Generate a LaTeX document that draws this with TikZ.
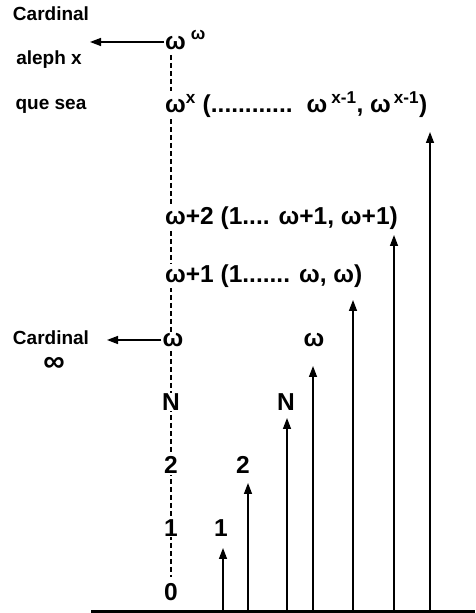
\documentclass[tikz,border=0pt]{standalone}
\usepackage{fontspec}
\setmainfont{Liberation Sans}
\usetikzlibrary{arrows.meta}
\tikzset{
  axlab/.style={font=\fontsize{24.5}{28}\selectfont\bfseries, inner sep=1pt, fill=white},
  sidelab/.style={font=\fontsize{19}{22}\selectfont\bfseries, inner sep=0pt},
  up/.style={line width=1.4pt, -{Triangle[length=11pt,width=8pt]}},
}
\begin{document}
\begin{tikzpicture}[x=1pt,y=1pt]
\useasboundingbox (0,0) rectangle (475,613);
\coordinate (top) at (171,558);
\coordinate (bot) at (171,36);
\draw[line width=1.5pt, dash pattern=on 5pt off 3pt] (top) -- (bot);

% chain of ordinals on the dashed axis
\node[axlab] (n0) at (171,21) {0};
\node[axlab] (n1) at (171,85) {1};
\node[axlab] (n2) at (171,148) {2};
\node[axlab] (nN) at (171,211) {N};
\node[axlab] (nw) at (173,273) {ω};
\node[axlab, anchor=west] (nw1) at (164,337) {ω+1 (1....... ω, ω)};
\node[axlab, anchor=west] (nw2) at (164,395) {ω+2 (1.... ω+1, ω+1)};
\node[axlab, anchor=west] (nwx) at (164,508)
  {ω\textsuperscript{x} (............\hspace{14pt}ω\hspace{4pt}\textsuperscript{x-1},
   ω\hspace{3pt}\textsuperscript{x-1})};
\node[axlab, anchor=west] (nww) at (164,573) {ω\hspace{5pt}\textsuperscript{ω}};

% labels above the arrows
\node[axlab] (m1) at (221,85) {1};
\node[axlab] (m2) at (243,148) {2};
\node[axlab] (mN) at (286,211) {N};
\node[axlab] (mw) at (314,273) {ω};

% cardinals on the left
\node[sidelab] (c1) at (51,599) {Cardinal};
\node[sidelab] (c2) at (49,553) {aleph x};
\node[sidelab] (c3) at (51,507) {que sea};
\node[sidelab] (c4) at (51,275) {Cardinal};
\node[sidelab, font=\fontsize{30}{30}\selectfont\bfseries] (c5) at (54,249) {∞};
\coordinate (ca) at (90,571);
\coordinate (cb) at (107,273);
\draw[up] (nww.west |- ca) -- (ca);
\draw[up] (nw.west) -- (cb);

% base line and arrows
\coordinate (L) at (91,1.8);
\coordinate (R) at (475,1.8);
\draw[line width=2.6pt] (L) -- (R);
\foreach \i/\x/\y in {1/223/65, 2/248/130, 3/287/195, 4/313/247, 5/353/313, 6/394/378, 7/430/481} {
  \coordinate (b\i) at (\x,1.8);
  \coordinate (t\i) at (\x,\y);
  \draw[up] (b\i) -- (t\i);
}
\end{tikzpicture}
\end{document}
